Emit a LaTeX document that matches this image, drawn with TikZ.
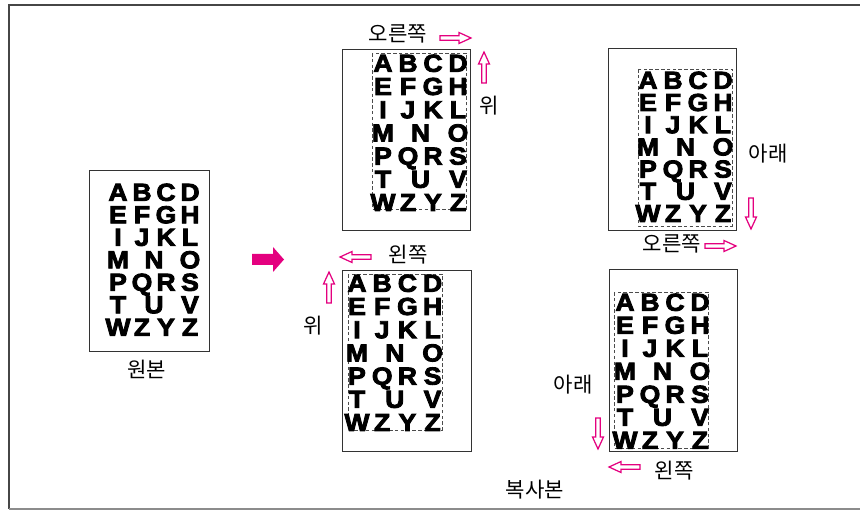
\documentclass[tikz,border=0pt]{standalone}
\usepackage{fontspec}
\usepackage{xcolor}
\setmainfont{Liberation Sans}
\newfontfamily\korfont{Noto Sans CJK KR}
\newfontfamily\chartfont[FakeBold=3.5, FakeStretch=1.08]{Liberation Sans Bold}
\definecolor{copymagenta}{RGB}{228,0,127}
\definecolor{framegray}{RGB}{70,70,70}

\begin{document}
\begin{tikzpicture}[
    x=0.02cm, y=-0.02cm,
    every node/.style={font=\korfont\fontsize{12}{14}\selectfont, inner sep=0pt},
    chart/.style={font=\chartfont\fontsize{14}{16}\selectfont, inner sep=0pt, text height=10pt, text depth=0pt},
    page/.style={draw=black!80, line width=0.5pt},
    cropbox/.style={draw=black!70, dash pattern=on 2pt off 1.3pt, line width=0.45pt},
    hollowarrow/.pic={\draw[copymagenta, line width=0.7pt, fill=white] (0,-2.2) -- (19,-2.2) -- (19,-5.5) -- (31,0) -- (19,5.5) -- (19,2.2) -- (0,2.2) -- cycle;}
]
\useasboundingbox (0,0) rectangle (860,510);

% Frame
\draw[framegray, line width=1pt] (860,5) -- (9,5) -- (9,509);
\draw[black!45, line width=1pt] (9,509) -- (860,509);

% Pages and print areas
\draw[page] (89,170) rectangle (209,351);
\draw[page] (342,49) rectangle (470,230);
\draw[cropbox] (372,53) rectangle (466,209);
\draw[page] (608,48) rectangle (736,230);
\draw[cropbox] (638,69) rectangle (732,226);
\draw[page] (342,270) rectangle (471,451);
\draw[cropbox] (348,274) rectangle (442,430);
\draw[page] (609,269) rectangle (737,451);
\draw[cropbox] (614,292) rectangle (708,448);

% Letters
\foreach \px/\py/\dx/\dy/\pg in {118/192/24/22.5/orig, 383/63/25/23.2/upright, 648/80/25/22.2/downright, 357/283/25.2/23.2/upleft, 625/302/25/23/downleft}
  \foreach \ch/\c/\r [count=\k] in {A/0/0,B/1/0,C/2/0,D/3/0,E/0/1,F/1/1,G/2/1,H/3/1,I/0/2,J/1/2,K/2/2,L/3/2,M/0/3,N/1.5/3,O/3/3,P/0/4,Q/1/4,R/2/4,S/3/4,T/0/5,U/1.5/5,V/3/5,W/0/6,Z/1/6,Y/2/6,Z/3/6}
    \node[chart] (\pg-\k) at (\px+\dx*\c, \py+\dy*\r) {\ch};

% Feed arrow
\fill[copymagenta] (252,254) -- (273,254) -- (273,247) -- (284,259.5) -- (273,272) -- (273,265) -- (252,265) -- cycle;

% Labels
\node (orig-label) at (147,369) {원본};
\node (copy-label) at (535,490) {복사본};

\node (ur-side) at (398,34) {오른쪽};
\pic at (440,38) {hollowarrow};
\pic[rotate=90] at (484,83) {hollowarrow};
\node (ur-top) at (489,106) {위};

\node (dr-top) at (768,154) {아래};
\pic[rotate=-90] at (751,198) {hollowarrow};
\node (dr-side) at (672,244) {오른쪽};
\pic at (705,246) {hollowarrow};

\node (ul-side) at (408,255) {왼쪽};
\pic[rotate=180] at (371,257) {hollowarrow};
\pic[rotate=90] at (329,303) {hollowarrow};
\node (ul-top) at (313,326) {위};

\node (dl-top) at (573,385) {아래};
\pic[rotate=-90] at (598,418) {hollowarrow};
\pic[rotate=180] at (640,467) {hollowarrow};
\node (dl-side) at (674,471) {왼쪽};

\end{tikzpicture}
\end{document}
